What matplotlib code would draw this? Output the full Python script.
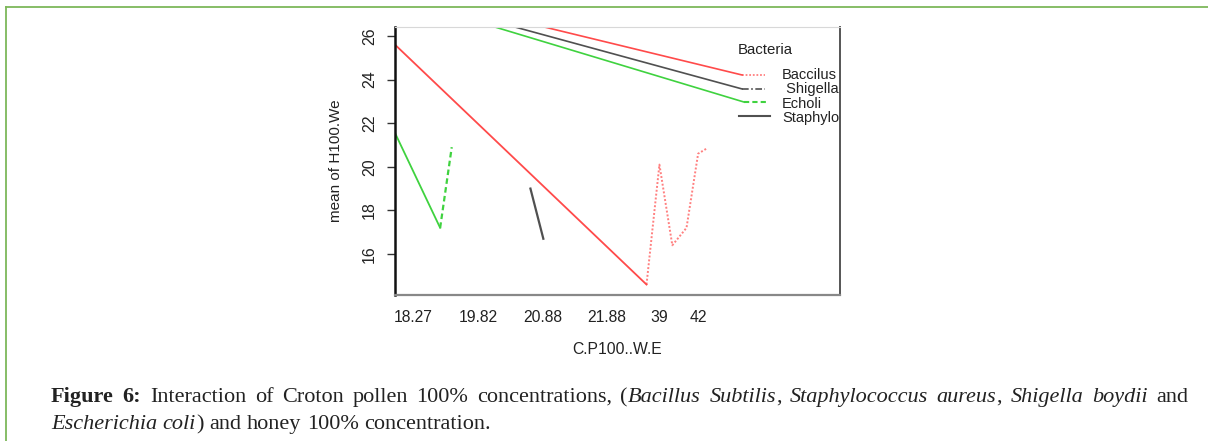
import matplotlib
matplotlib.use("Agg")
import matplotlib.pyplot as plt
from matplotlib.lines import Line2D

# x en unidades de nivel (0 = eje izquierdo)
etiquetas_x = ["18.27", "19.82", "20.88", "21.88", "39", "42"]
pos_etiquetas_x = [1.4, 6.43, 11.47, 16.43, 20.47, 23.5]

# Baccilus
bac_x = [0, 19.5]
bac_y = [25.6, 14.6]
bac_pts_x = [19.5, 20.5, 21.5, 22.6, 23.5, 24.2]
bac_pts_y = [14.6, 20.1, 16.4, 17.2, 20.6, 20.85]

# Echoli
eco_x = [0, 3.5]
eco_y = [21.55, 17.2]
eco_pts_x = [3.5, 4.4]
eco_pts_y = [17.2, 20.9]

# Staphylo
sta_x = [10.5, 11.5]
sta_y = [19.0, 16.7]

# lineas de la leyenda que entran desde arriba
ley_bac_x = [9.0, 26.9]
ley_bac_y = [26.78, 24.21]
ley_shi_x = [7.0, 26.9]
ley_shi_y = [26.78, 23.57]
ley_eco_x = [5.5, 27.05]
ley_eco_y = [26.81, 22.97]

nombres = ["Baccilus", " Shigella", "Echoli", "Staphylo"]
nombres_y = [24.21, 23.55, 22.88, 22.24]

ROJO = "#ff4a4a"
VERDE = "#3fd23f"
GRIS = "#505050"

W, H = 1208, 441
fig = plt.figure(figsize=(W / 100, H / 100), dpi=100)
fig.patch.set_facecolor("white")

# marco verde de la figura
fig.add_artist(Line2D([6 / W, 6 / W], [0, 1 - 7 / H], color="#7db85a", lw=1.3))
fig.add_artist(Line2D([6 / W, 1], [1 - 7 / H, 1 - 7 / H], color="#7db85a", lw=1.3))

ax = fig.add_axes([395 / W, 1 - 295 / H, (840 - 395) / W, (295 - 27) / H])
ax.set_xlim(0, 34.5)
ax.set_ylim(14.12, 26.41)

ax.plot(bac_x, bac_y, color=ROJO, lw=1.3)
ax.plot(bac_pts_x, bac_pts_y, color=ROJO, lw=1.4, ls=(0, (1, 1)), alpha=0.7)
ax.plot(eco_x, eco_y, color=VERDE, lw=1.3)
ax.plot(eco_pts_x, eco_pts_y, color=VERDE, lw=1.6, ls=(0, (2.5, 1.5)))
ax.plot(sta_x, sta_y, color=GRIS, lw=1.6)

ax.plot(ley_bac_x, ley_bac_y, color=ROJO, lw=1.2)
ax.plot(ley_shi_x, ley_shi_y, color=GRIS, lw=1.2)
ax.plot(ley_eco_x, ley_eco_y, color=VERDE, lw=1.2)

# leyenda de R
ax.plot([26.9, 28.7], [24.21, 24.21], color=ROJO, lw=1.3, ls=(0, (1, 1)), alpha=0.7)
ax.plot([26.9, 28.7], [23.57, 23.57], color=GRIS, lw=1.2, ls=(0, (4, 1.5, 1, 1.5)))
ax.plot([27.05, 28.9], [22.97, 22.97], color=VERDE, lw=1.5, ls=(0, (2.5, 1.5)))
ax.plot([26.7, 29.1], [22.33, 22.33], color=GRIS, lw=1.5)

fuente = "Liberation Sans"
estrecha = ["Liberation Sans Narrow", "Liberation Sans"]
ax.text(26.6, 25.36, "Bacteria", fontsize=10.8, family=fuente, va="center", color="#222")
for nom, yy in zip(nombres, nombres_y):
    ax.text(30.0, yy, nom, fontsize=10.5, family=fuente, va="center", color="#222", clip_on=False)

ax.set_yticks([16, 18, 20, 22, 24, 26])
ax.set_yticklabels(["16", "18", "20", "22", "24", "26"], rotation=90, va="center",
                   family=estrecha, fontsize=11.5, color="#222")
ax.tick_params(axis="y", length=6, width=1, pad=7, color="#333")
ax.set_xticks(pos_etiquetas_x)
ax.set_xticklabels(etiquetas_x, family=fuente, fontsize=11.3, color="#222")
ax.tick_params(axis="x", length=0, pad=11)
ax.set_ylabel("mean of H100.We", family=estrecha, fontsize=11, labelpad=14, color="#222")
ax.set_xlabel("C.P100..W.E", family=fuente, fontsize=11.3, labelpad=12, color="#222")

ax.spines["left"].set_color("#111")
ax.spines["left"].set_linewidth(1.8)
ax.spines["bottom"].set_color("#888")
ax.spines["bottom"].set_linewidth(1.6)
ax.spines["right"].set_color("#555")
ax.spines["right"].set_linewidth(1.4)
ax.spines["top"].set_color("#d8d8d8")
ax.spines["top"].set_linewidth(0.8)

# pie de figura justificado
serif = "Liberation Serif"
tam = 16
linea1 = [("Figure 6:", "bold", "normal"),
          (" Interaction of Croton pollen 100% concentrations, (", "normal", "normal"),
          ("Bacillus Subtilis", "normal", "italic"),
          (", ", "normal", "normal"),
          ("Staphylococcus aureus", "normal", "italic"),
          (", ", "normal", "normal"),
          ("Shigella boydii", "normal", "italic"),
          (" and", "normal", "normal")]
linea2 = [("Escherichia coli", "normal", "italic"),
          (") and honey 100% concentration.", "normal", "normal")]

fig.canvas.draw()
render = fig.canvas.get_renderer()


def palabras(runs):
    # separa en palabras, manteniendo el estilo; "pegado" = sin espacio antes
    salida = []
    pegado = False
    for txt, peso, estilo in runs:
        partes = txt.split(" ")
        for i, p in enumerate(partes):
            if i > 0:
                pegado = False
            if p == "":
                continue
            salida.append((p, peso, estilo, pegado))
            pegado = True
    return salida


def ancho(s, **kw):
    t = fig.text(0, 0, s, family=serif, fontsize=tam, **kw)
    a = t.get_window_extent(render).width
    t.remove()
    return a


def dibujar_linea(runs, x0, x1, yb, justificar):
    ws = palabras(runs)
    objs = []
    anchos = []
    for p, peso, estilo, _ in ws:
        t = fig.text(0, 1 - yb / H, p, family=serif, fontsize=tam, weight=peso,
                     style=estilo, va="baseline", color="#222")
        anchos.append(t.get_window_extent(render).width)
        objs.append(t)
    n_esp = sum(1 for w in ws[1:] if not w[3])
    esp_nat = ancho("a a") - 2 * ancho("a")
    if justificar and n_esp:
        esp = (x1 - x0 - sum(anchos)) / n_esp
    else:
        esp = esp_nat
    x = x0
    for k, (t, a, w) in enumerate(zip(objs, anchos, ws)):
        if k > 0 and not w[3]:
            x += esp
        t.set_x(x / W)
        x += a


dibujar_linea(linea1, 51, 1188, 402, True)
dibujar_linea(linea2, 51, 1188, 429, False)

fig.savefig("out.png", dpi=100, facecolor="white")
